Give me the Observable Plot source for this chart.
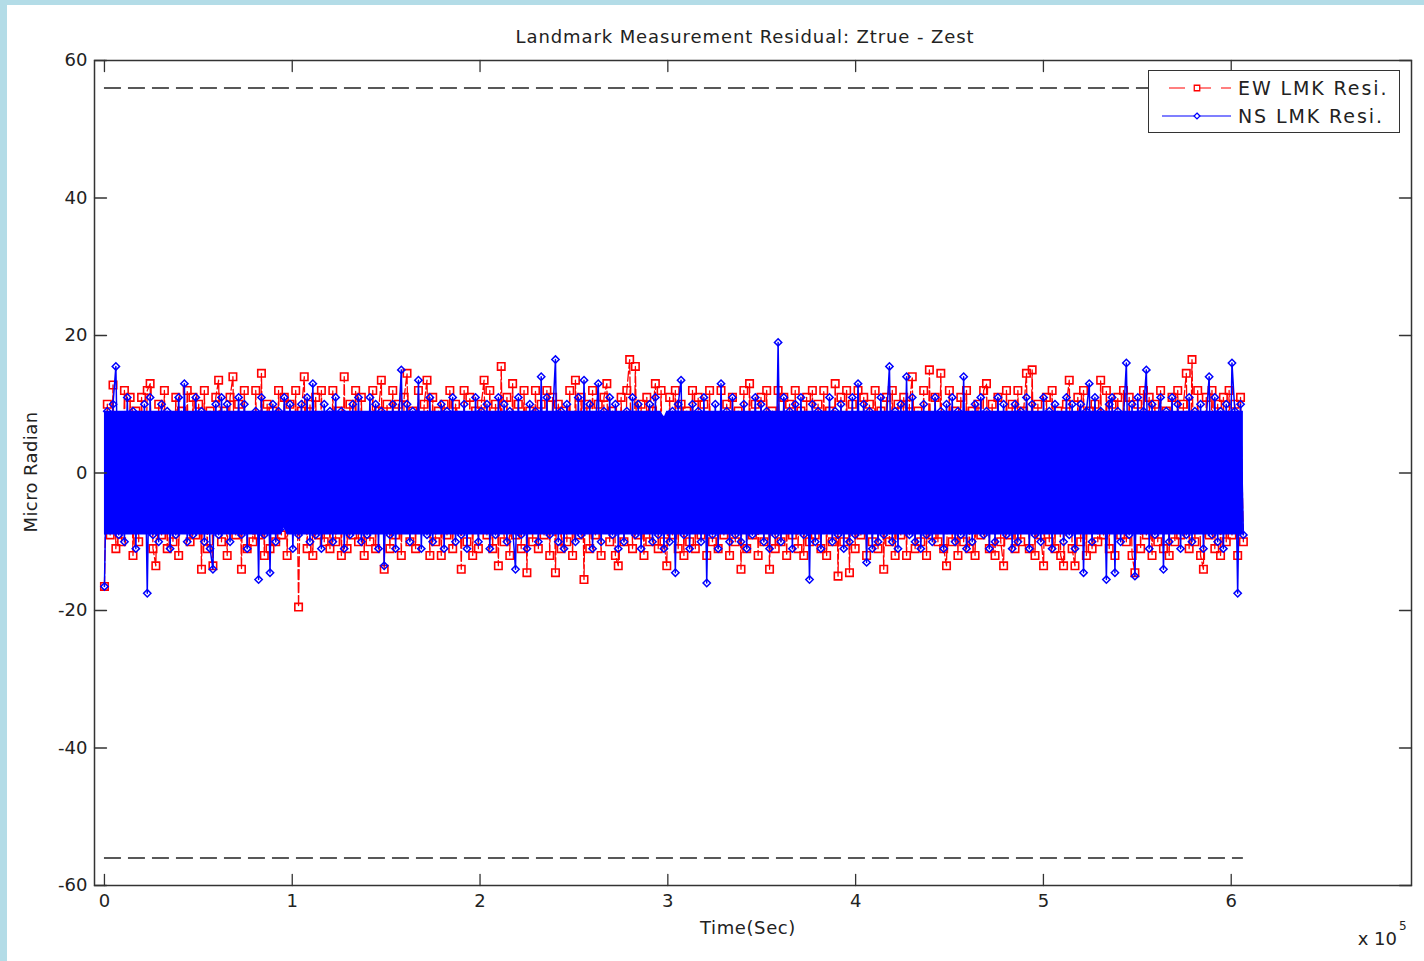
<!DOCTYPE html>
<html><head><meta charset="utf-8">
<script src="https://cdn.jsdelivr.net/npm/d3@7"></script>
<script src="https://cdn.jsdelivr.net/npm/@observablehq/plot@0.6"></script>
<style>
html,body{margin:0;padding:0;background:#fff;}
#wrap{position:relative;width:1424px;height:961px;overflow:hidden;font-family:"DejaVu Sans",sans-serif;color:#222;}
.bar{position:absolute;background:#b3dce7;}
.lbl{position:absolute;white-space:nowrap;font-size:18px;line-height:22px;}
#legend{position:absolute;left:1148px;top:70px;width:252px;height:63px;border:1.5px solid #333;background:#fff;box-sizing:border-box;}
</style></head><body><div id="wrap"></div>
<script>
// ---- data ----
const xTicks = [0, 100000, 200000, 300000, 400000, 500000, 600000];
const yTicks = [-60, -40, -20, 0, 20, 40, 60];
const limitLevels = [56, -56];
const sampleStep = 1520; // seconds between samples
const nsValues = [
-16.5, 9, -8, 10, 15.5, -9, 7, -10, 11, -6, 9, -11, 8, -7, 10, -17.5, 11, -9, 6, -10,
10, -8, 9, -11, 7, -9, 11, -5, 13, -10, 8, -9, 11, -7, 9, -10, 6, -11, -14, 10,
-9, 11, -7, 10, -10, 8, -6, 11, -9, 10, -11, 7, -8, 9, -15.5, 11, -9, 8, -14.5, 10,
-10, 9, -8, 11, -7, 10, -11, 6, -9, 10, -8, 11, -10, 13, -9, 8, -11, 10, -7, 9,
-10, 11, -8, 9, -11, 7, -9, 10, -6, 11, -10, 8, -9, 11, -7, 10, -11, 9, -13.5, 8,
-9, 10, -11, 7, 15, -8, 10, -10, 9, -7, 13.5, -11, 8, -9, 11, -10, 6, -8, 10, -11,
9, -7, 11, -10, 8, -9, 10, -11, 7, -8, 11, -10, 9, -6, 10, -11, 8, -9, 11, -7,
10, -10, 9, -8, -14, 11, -9, 7, -11, 10, -8, 9, -10, 14, -7, 11, -9, 8, 16.5, -10,
9, -11, 10, -7, 8, -10, 11, -9, 13.5, -8, 10, -11, 7, 13, -10, 9, -8, 11, -9, 10,
-11, 8, -10, 9, -7, 11, -9, 10, -11, 6, -8, 10, -10, 11, -9, 8, -11, 7, -10, 9,
-14.5, 10, 13.5, -9, 8, -11, 10, -7, 9, -10, 11, -16, 8, -9, 10, -11, 13, -8, 9, -10,
11, -9, 7, -10, 10, -11, 8, -9, 11, -7, 10, -10, 9, -11, 8, -9, 19, -10, 11, -8,
9, -11, 10, -7, 11, -9, 8, -15.5, 10, -10, 9, -11, 7, -8, 11, -10, 9, -9, 10, -11,
8, -10, 11, -9, 13, -8, 10, -13, 9, -11, 7, -10, 11, -9, 8, 15.5, -10, 9, -11, 10,
-8, 14, -9, 11, -10, 7, -11, 10, -9, 8, -10, 11, -7, 9, -11, 10, -8, 11, -10, 9,
-9, 14, -11, 8, -10, 10, -7, 11, -9, 9, -11, 8, -10, 11, -8, 10, -9, 7, -11, 10,
-10, 9, -8, 11, -11, 10, -9, 7, -10, 11, -8, 9, -11, 10, -7, 8, -10, 11, -9, 10,
-11, 8, 10, -14.5, 9, 13, -10, 11, -8, 9, 7, -15.5, 10, 11, -14.5, 9, -10, 8, 16, -9,
10, -15, 11, -8, 9, 15, -11, 10, -9, 8, 11, -14, 9, -10, 11, -7, 10, -11, 8, -9,
11, -10, 9, -8, 10, -11, 8, 14, -9, 11, -10, 9, -11, 10, -8, 16, 9, -17.5, 10, -9
];
const ewValues = [
-16.5, 10, -9, 12.8, -11, 8, -10, 12, -7, 11, -12, 9, -10, 11, -8, 12, 13, -11, -13.5, 10,
-9, 12, -11, 8, -10, 11, -12, 9, -8, 12, -10, 11, -9, 10, -14, 12, -11, 9, -13.5, 11,
13.5, -10, 9, -12, 11, 14, -9, 10, -14, 12, -11, 8, -10, 12, -9, 14.5, -12, 10, -11, 9,
-10, 12, -9, 11, -12, 10, -8, 12, -19.5, 9, 14, -11, 10, -12, 11, -9, 12, -10, 8, -11,
12, -10, 9, -12, 14, -11, 10, -9, 12, -10, 11, -12, 8, -10, 12, -11, 9, 13.5, -14, 10,
-11, 12, -9, 10, -12, 11, 14.5, -10, 9, -11, 12, -8, 10, 13.5, -12, 11, -10, 9, -12, 10,
-9, 12, -11, 10, 8, -14, 12, -10, 11, -12, 9, -11, 10, 13.5, -9, 12, -11, 10, -13.5, 15.5,
-10, 11, -12, 13, -9, 10, -11, 12, -14.5, 9, -10, 12, -11, 10, -9, 12, -12, 11, -14.5, 10,
-11, 9, -10, 12, -12, 13.5, -9, 11, -15.5, 10, -11, 12, -9, 10, -12, 11, 13, -10, 9, -12,
-13.5, 11, -10, 12, 16.5, -11, 15.5, -9, 10, -12, 11, -10, 9, 13, -11, 12, -10, -13.5, 11, -9,
12, -11, 10, -12, 9, -10, 12, -11, 11, -9, 10, -12, 12, -10, 8, -11, 12, -9, 10, -12,
11, -10, 9, -14, 12, -11, 13, -9, 10, -12, 11, -10, 12, -14, 9, -11, 12, -10, 11, -12,
10, -9, 12, -11, 9, -12, 11, -10, 12, -9, 10, -11, 12, -12, 9, -10, 13, -15, 11, -10,
12, -14.5, 10, -11, 12, -9, 11, -12, 10, -10, 12, -11, 9, -14, 11, -10, 12, -12, 10, -9,
11, -12, 10, 14, -11, 9, -10, 12, -12, 15, -9, 11, -10, 14.5, -11, -13.5, 12, -10, 9, -12,
11, -10, 12, -11, 9, -12, 10, -9, 12, 13, -11, 10, -12, 11, -10, -13.5, 12, -9, 10, -11,
12, -10, 9, 14.5, -11, 15, -12, 10, -9, -13.5, 11, -10, 12, -11, 9, -12, -13.5, 10, 13.5, -11,
-13.5, 11, -10, 12, -12, 9, -11, 10, -10, 13.5, -9, 12, -11, 10, -12, 11, -9, 12, -10, 11,
-12, -14.5, 10, -11, 12, -9, 11, -12, 10, -10, 12, -11, 9, -12, 11, -10, 12, -9, 10, 14.5,
-11, 16.5, -10, 12, -12, -14, 11, -9, 12, -11, 10, -12, 11, -10, 12, -9, 10, -12, 11, -10
];
const seriesNames = ["EW LMK Resi.", "NS LMK Resi."];
const titleText = "Landmark Measurement Residual: Ztrue - Zest";
const xLabel = "Time(Sec)";
const yLabel = "Micro Radian";

// ---- derived tables ----
const times = nsValues.map((_, i) => i * sampleStep);
const rows = times.map((t, i) => ({t, ew: ewValues[i], ns: nsValues[i]}));
const bandCap = 9; // the densely over-drawn core of the NS trace
const nsBand = times.map((t, i) => {
  const w = nsValues.slice(Math.max(0, i - 2), i + 3);
  return {t, lo: Math.max(-bandCap, Math.min(0, d3.min(w))), hi: Math.min(bandCap, Math.max(0, d3.max(w)))};
});
const limits = limitLevels.map(y => ({y, x1: times[0], x2: times[times.length - 1]}));

const tickShape = {draw(ctx, l) { ctx.moveTo(0, 0); ctx.lineTo(0, -l); }};
const axisColor = "#333";

const chart = Plot.plot({
  width: 1424, height: 961,
  marginLeft: 94, marginRight: 13, marginTop: 60, marginBottom: 76,
  style: {fontFamily: '"DejaVu Sans", sans-serif', fontSize: "18px", background: "transparent", color: "#222"},
  x: {domain: [-5300, 696000]},
  y: {domain: [-60, 60]},
  marks: [
    Plot.ruleY(limits, {y: "y", x1: "x1", x2: "x2", stroke: "#222", strokeWidth: 1.3, strokeDasharray: "17,7"}),
    Plot.line(rows, {x: "t", y: "ew", stroke: "#ff0000", strokeWidth: 1.3, strokeDasharray: "10,3"}),
    Plot.dot(rows, {x: "t", y: "ew", symbol: "square", r: 4.2, stroke: "#ff0000", fill: "none", strokeWidth: 1.6}),
    Plot.areaY(nsBand, {x: "t", y1: "lo", y2: "hi", fill: "#0000ff"}),
    Plot.line(rows, {x: "t", y: "ns", stroke: "#0000ff", strokeWidth: 1.5}),
    Plot.dot(rows, {x: "t", y: "ns", symbol: "diamond2", r: 3.3, stroke: "#0000ff", fill: "none", strokeWidth: 1.5}),
    Plot.frame({stroke: axisColor, strokeWidth: 1.5}),
    Plot.vector(xTicks, {x: d => d, frameAnchor: "bottom", length: 11, rotate: 0, anchor: "start", shape: tickShape, stroke: axisColor, strokeWidth: 1.3}),
    Plot.vector(xTicks, {x: d => d, frameAnchor: "top", length: 11, rotate: 180, anchor: "start", shape: tickShape, stroke: axisColor, strokeWidth: 1.3}),
    Plot.vector(yTicks, {y: d => d, frameAnchor: "left", length: 12, rotate: 90, anchor: "start", shape: tickShape, stroke: axisColor, strokeWidth: 1.3}),
    Plot.vector(yTicks, {y: d => d, frameAnchor: "right", length: 12, rotate: -90, anchor: "start", shape: tickShape, stroke: axisColor, strokeWidth: 1.3}),
    Plot.axisX(xTicks, {tickSize: 0, tickPadding: 9, tickFormat: d => String(d / 1e5), label: null, fontSize: 18}),
    Plot.axisY(yTicks, {tickSize: 0, tickPadding: 7, tickFormat: d => String(d), label: null, fontSize: 18})
  ]
});

const wrap = document.getElementById("wrap");
chart.style.position = "absolute"; chart.style.left = "0px"; chart.style.top = "0px";
wrap.appendChild(chart);

function addDiv(cls, css, text) {
  const d = document.createElement("div");
  d.className = cls; d.style.cssText = css; if (text != null) d.textContent = text;
  wrap.appendChild(d); return d;
}
addDiv("bar", "left:0;top:0;width:1424px;height:5px;");
addDiv("bar", "left:0;top:0;width:7px;height:961px;");
addDiv("lbl", "left:745px;top:26px;transform:translateX(-50%);letter-spacing:0.9px;", titleText);
addDiv("lbl", "left:748px;top:917px;transform:translateX(-50%);letter-spacing:0.6px;", xLabel);
addDiv("lbl", "left:31px;top:472px;transform:translate(-50%,-50%) rotate(-90deg);letter-spacing:0.4px;", yLabel);
addDiv("lbl", "right:27px;top:928px;", "x 10");
addDiv("lbl", "left:1399px;top:919px;font-size:12px;line-height:14px;", "5");

const legend = addDiv("", "", null);
legend.id = "legend";
const lsvg = d3.create("svg").attr("width", 250).attr("height", 61).style("position", "absolute").style("left", "0").style("top", "0");
const entries = [
  {name: seriesNames[0], color: "#ff0000", dash: "16,10", x1: 20, x2: 82, y: 17, sym: d3.symbolSquare, size: 30},
  {name: seriesNames[1], color: "#0000ff", dash: null, x1: 13, x2: 82, y: 45, sym: d3.symbolDiamond2, size: 22}
];
for (const e of entries) {
  lsvg.append("line").attr("x1", e.x1).attr("x2", e.x2).attr("y1", e.y).attr("y2", e.y)
    .attr("stroke", e.color).attr("stroke-width", 1.2).attr("stroke-dasharray", e.dash);
  lsvg.append("path").attr("d", d3.symbol(e.sym, e.size)()).attr("transform", `translate(48,${e.y})`)
    .attr("fill", "#fff").attr("stroke", e.color).attr("stroke-width", 1.3);
  lsvg.append("text").attr("x", 89).attr("y", e.y).attr("dy", "0.36em")
    .attr("font-family", '"DejaVu Sans", sans-serif').attr("font-size", 19).attr("fill", "#222")
    .attr("letter-spacing", "1.9px").text(e.name);
}
legend.appendChild(lsvg.node());
</script></body></html>
